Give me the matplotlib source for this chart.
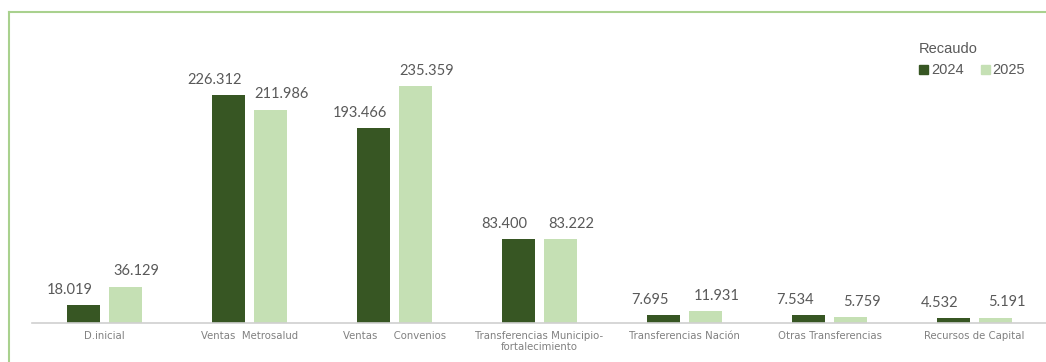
import matplotlib
matplotlib.use("Agg")
import matplotlib.pyplot as plt
from matplotlib.lines import Line2D
from matplotlib.patches import Patch
import numpy as np

categories = ["D.inicial", "Ventas  Metrosalud", "Ventas     Convenios",
              "Transferencias Municipio-\nfortalecimiento", "Transferencias Nación",
              "Otras Transferencias", "Recursos de Capital"]
values_2024 = [18.019, 226.312, 193.466, 83.400, 7.695, 7.534, 4.532]
values_2025 = [36.129, 211.986, 235.359, 83.222, 11.931, 5.759, 5.191]
series_names = ["2024", "2025"]
legend_title = "Recaudo"

c24 = "#375623"
c25 = "#c5e0b4"

fig = plt.figure(figsize=(10.46, 3.62), dpi=100)
W, H = 1046, 362
ax = fig.add_axes([32 / W, 39 / H, 1015 / W, 302 / H])

x = np.arange(len(categories))
bw = 0.228
off = 0.145
b1 = ax.bar(x - off, values_2024, bw, color=c24)
b2 = ax.bar(x + off, values_2025, bw, color=c25)

def fmt(v):
    return f"{v:.3f}"

lab_font = dict(fontsize=10.5, color="#595959", family=["Lato", "DejaVu Sans"])
for rect, v in zip(b1, values_2024):
    ax.annotate(fmt(v), (rect.get_x() + rect.get_width() / 2, rect.get_height()),
                xytext=(-10, 6), textcoords="offset points", ha="center", va="bottom", **lab_font)
for rect, v in zip(b2, values_2025):
    ax.annotate(fmt(v), (rect.get_x() + rect.get_width() / 2, rect.get_height()),
                xytext=(8, 6), textcoords="offset points", ha="center", va="bottom", **lab_font)

ax.set_xlim(-0.5, len(categories) - 0.5)
ax.set_ylim(0, 300)
ax.set_xticks(x)
ax.set_xticklabels(categories, fontsize=7.3, color="#808080", family=["DejaVu Sans"],
                   linespacing=1.1)
ax.tick_params(axis="x", length=0, pad=6)
ax.set_yticks([])
for s in ["top", "right", "left"]:
    ax.spines[s].set_visible(False)
ax.spines["bottom"].set_color("#d0d0d0")
ax.spines["bottom"].set_linewidth(1.2)

handles = [Patch(color=c24, label=series_names[0]), Patch(color=c25, label=series_names[1])]
leg = fig.legend(handles=handles, title=legend_title, loc="upper left",
                 bbox_to_anchor=(906 / W, 1 - 29 / H), ncol=2, frameon=False,
                 handlelength=0.6, handleheight=0.6, handletextpad=0.2, columnspacing=1.2,
                 prop={"family": "Liberation Sans", "size": 10.5},
                 title_fontproperties={"family": "Liberation Sans", "size": 10.5})
for t in leg.get_texts():
    t.set_color("#595959")
leg.get_title().set_color("#595959")
leg._legend_box.align = "left"

# figure border (green, top and left)
fig.add_artist(Line2D([9 / W, 1.0], [1 - 12 / H, 1 - 12 / H], transform=fig.transFigure,
                      color="#a9d18e", lw=1.5))
fig.add_artist(Line2D([9 / W, 9 / W], [0, 1 - 12 / H], transform=fig.transFigure,
                      color="#a9d18e", lw=1.5))

fig.savefig("out.png", dpi=100, facecolor="white")
